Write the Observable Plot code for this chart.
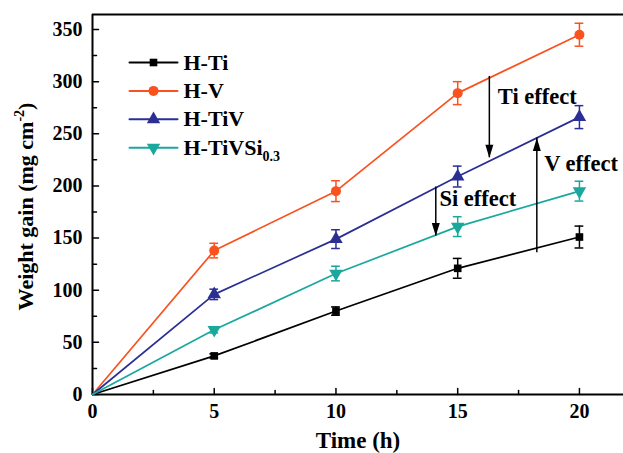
<!DOCTYPE html>
<html>
<head>
<meta charset="utf-8">
<script src="https://cdn.jsdelivr.net/npm/d3@7"></script>
<script src="https://cdn.jsdelivr.net/npm/@observablehq/plot@0.6"></script>
<style>
  html, body { margin: 0; padding: 0; background: #fff; }
  #chart svg { display: block; }
</style>
</head>
<body>
<div id="chart"></div>
<script>
// ---- data ----
const times = [0, 5, 10, 15, 20];
const seriesNames = ["H-Ti", "H-V", "H-TiV", "H-TiVSi0.3"];
const hTi     = [0, 37, 80, 121, 151];
const hTiErr  = [0, 2, 4, 9.5, 10.5];
const hV      = [0, 138, 195, 289, 345];
const hVErr   = [0, 7, 10, 11, 11];
const hTiV    = [0, 96, 149, 209, 266];
const hTiVErr = [0, 5, 9, 10, 11];
const hTiVSi    = [0, 62, 116, 161, 195];
const hTiVSiErr = [0, 3, 7, 9.5, 9.5];
const colors = ["#000000", "#F9521E", "#2B2F94", "#1AA89E"];
const xTicks = [0, 5, 10, 15, 20];
const yTicks = [0, 50, 100, 150, 200, 250, 300, 350];
// annotation arrows: x, from, to, label
const arrowX    = [16.3, 18.25, 14.1];
const arrowFrom = [305, 136, 199];
const arrowTo   = [227, 246, 152];
const arrowText = ["Ti effect", "V effect", "Si effect"];
const textX     = [16.65, 18.55, 14.25];
const textY     = [285.5, 221.5, 188];

// ---- build tables ----
const values = [hTi, hV, hTiV, hTiVSi];
const errs = [hTiErr, hVErr, hTiVErr, hTiVSiErr];
const rows = [];
seriesNames.forEach((s, i) => times.forEach((t, j) => rows.push({series: s, i, x: t, y: values[i][j], e: errs[i][j]})));
const pts = rows.filter(d => d.x > 0);
const arrows = arrowX.map((x, i) => ({x, y1: arrowFrom[i], y2: arrowTo[i], label: arrowText[i], tx: textX[i], ty: textY[i]}));

// ---- symbols ----
const triDown = {draw(ctx, size) {
  const s3 = Math.sqrt(3);
  const y = -Math.sqrt(size / (s3 * 3));
  ctx.moveTo(0, -y * 2); ctx.lineTo(-s3 * y, y); ctx.lineTo(s3 * y, y); ctx.closePath();
}};
const headDown = {draw(ctx) { ctx.moveTo(0, 0); ctx.lineTo(-4, -13); ctx.lineTo(4, -13); ctx.closePath(); }};
const headUp = {draw(ctx) { ctx.moveTo(0, 0); ctx.lineTo(-4, 13); ctx.lineTo(4, 13); ctx.closePath(); }};
const tickShape = {draw(ctx, l) { ctx.moveTo(0, 0); ctx.lineTo(0, -l); }};
const symbols = ["square", "circle", "triangle", triDown];
const radii = [4.3, 5, 5, 5];

const serif = "Liberation Serif";
const xMax = 21.81, yMax = 364.4;
const tf = {fontFamily: serif, fontWeight: "bold"};

const marks = [];
// frame lines
marks.push(Plot.ruleX([0], {stroke: "#000", strokeWidth: 2}));
marks.push(Plot.ruleY([0, yMax], {stroke: "#000", strokeWidth: 2}));
// inward ticks
marks.push(Plot.vector(yTicks, {x: 0, y: d => d, length: 6, rotate: 90, anchor: "start", shape: tickShape, stroke: "#000", strokeWidth: 1.5}));
marks.push(Plot.vector(d3.range(25, 351, 50), {x: 0, y: d => d, length: 4, rotate: 90, anchor: "start", shape: tickShape, stroke: "#000", strokeWidth: 1.5}));
marks.push(Plot.vector(xTicks, {x: d => d, y: 0, length: 6, rotate: 0, anchor: "start", shape: tickShape, stroke: "#000", strokeWidth: 1.5}));
marks.push(Plot.vector(d3.range(2.5, 21, 5), {x: d => d, y: 0, length: 4, rotate: 0, anchor: "start", shape: tickShape, stroke: "#000", strokeWidth: 1.5}));
// tick labels
marks.push(Plot.axisY({ticks: yTicks, tickSize: 0, tickPadding: 10, label: null, fontSize: 20, ...tf}));
marks.push(Plot.axisX({ticks: xTicks, tickSize: 0, tickPadding: 9, label: null, fontSize: 20, ...tf}));
// axis titles
marks.push(Plot.text(["Time (h)"], {frameAnchor: "bottom", dy: 46, textAnchor: "middle", lineAnchor: "middle", fontSize: 23, ...tf}));
marks.push(Plot.text(["Weight gain (mg cm-2)"], {frameAnchor: "left", dx: -67, dy: 2, rotate: -90, textAnchor: "middle", lineAnchor: "middle", fontSize: 22, ...tf}));
// series
seriesNames.forEach((s, i) => {
  const data = rows.filter(d => d.i === i);
  const p = pts.filter(d => d.i === i);
  marks.push(Plot.line(data, {x: "x", y: "y", stroke: colors[i], strokeWidth: 1.7}));
  marks.push(Plot.ruleX(p, {x: "x", y1: d => d.y - d.e, y2: d => d.y + d.e, stroke: colors[i], strokeWidth: 1.5}));
  marks.push(Plot.ruleY(p, {y: d => d.y - d.e, x1: d => d.x - 0.18, x2: d => d.x + 0.18, stroke: colors[i], strokeWidth: 1.5}));
  marks.push(Plot.ruleY(p, {y: d => d.y + d.e, x1: d => d.x - 0.18, x2: d => d.x + 0.18, stroke: colors[i], strokeWidth: 1.5}));
  marks.push(Plot.dot(p, {x: "x", y: "y", symbol: symbols[i], r: radii[i], fill: colors[i], stroke: "none"}));
  // legend (pixel offsets from top-left of frame)
  const dy = 48 + i * 28.4;
  marks.push(Plot.vector([s], {frameAnchor: "top-left", dx: 61, dy, length: 48, rotate: 90, anchor: "middle", shape: tickShape, stroke: colors[i], strokeWidth: 2}));
  marks.push(Plot.dot([s], {frameAnchor: "top-left", dx: 61, dy, symbol: symbols[i], r: radii[i], fill: colors[i], stroke: "none"}));
  marks.push(Plot.text([s], {frameAnchor: "top-left", dx: 91, dy, text: d => d, textAnchor: "start", lineAnchor: "middle", fontSize: 22, ...tf}));
});
// annotations
marks.push(Plot.ruleX(arrows, {x: "x", y1: "y1", y2: "y2", stroke: "#000", strokeWidth: 1.5}));
marks.push(Plot.dot(arrows, {x: "x", y: "y2", symbol: d => d.y2 < d.y1 ? headDown : headUp, fill: "#000", stroke: "none"}));
marks.push(Plot.text(arrows, {x: "tx", y: "ty", text: "label", textAnchor: "start", lineAnchor: "middle", fontSize: 22.5, ...tf}));

const chart = Plot.plot({
  width: 623, height: 453,
  marginLeft: 92, marginRight: 0, marginTop: 14, marginBottom: 59,
  x: {domain: [0, xMax], axis: null},
  y: {domain: [0, yMax], axis: null},
  symbol: {type: "identity"},
  style: "font-family: 'Liberation Serif', serif; font-size: 20px; color: #000; background: #fff; overflow: visible;",
  marks
});
document.getElementById("chart").appendChild(chart);

// serif font on every text element
d3.select(chart).selectAll("text")
  .attr("font-family", serif)
  .style("font-family", "'Liberation Serif', serif")
  .style("font-weight", "bold");

// rich text: superscript/subscript
d3.select(chart).selectAll("text").each(function() {
  const t = d3.select(this);
  if (this.textContent === "Weight gain (mg cm-2)") {
    t.text(null);
    t.append("tspan").text("Weight gain (mg cm");
    t.append("tspan").attr("dy", -9).attr("font-size", 14).text("-2");
    t.append("tspan").attr("dy", 9).text(")");
  } else if (this.textContent === "H-TiVSi0.3") {
    t.text(null);
    t.append("tspan").text("H-TiVSi");
    t.append("tspan").attr("dy", 6).attr("font-size", 14).text("0.3");
  }
});
</script>
</body>
</html>
